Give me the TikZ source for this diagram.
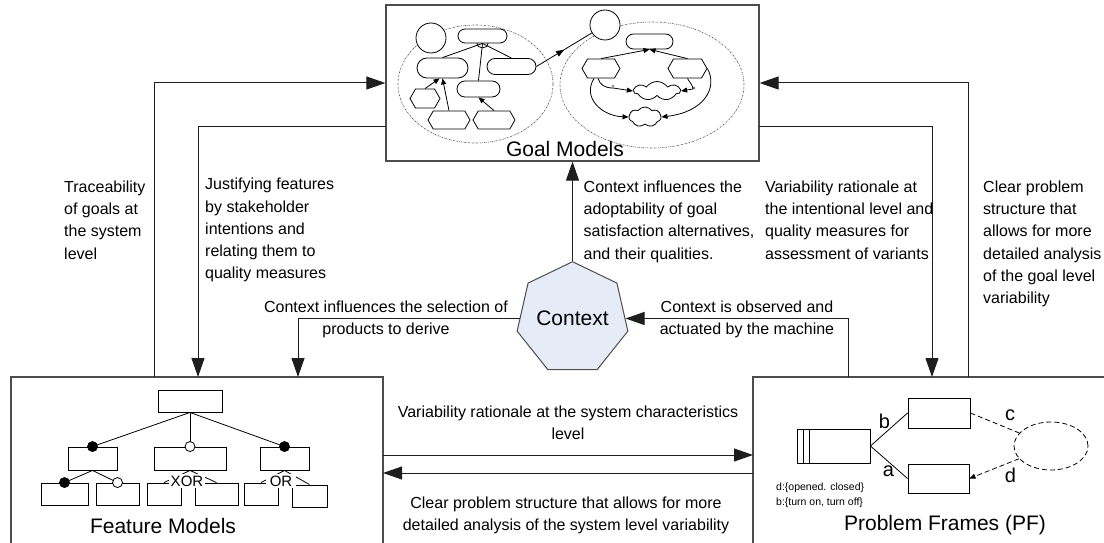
\documentclass[tikz,border=0pt]{standalone}
\usepackage{fontspec}
\setmainfont{Liberation Sans}
\usetikzlibrary{arrows.meta,shapes.geometric,shapes.misc,shapes.symbols,decorations.markings}
\definecolor{ctxfill}{RGB}{230,235,248}
\definecolor{linegray}{RGB}{30,30,30}
\begin{document}
\begin{tikzpicture}[x=1pt,y=-1pt,
  bigbox/.style={draw=black!70, line width=1.2pt, rectangle, inner sep=0pt},
  conn/.style={draw=linegray, line width=1pt, -{Triangle[length=19pt,width=13pt]}},
  lbl/.style={font=\fontsize{16}{22.3}\selectfont, inner sep=0pt},
  ttl/.style={font=\fontsize{21}{25}\selectfont, inner sep=0pt, anchor=base},
  ln/.style={draw=black, line width=0.8pt},
  garr/.style={ln, -{Triangle[length=6pt,width=5pt]}},
  gcirc/.style={circle, ln, minimum size=30pt, inner sep=0pt, fill=white},
  grr/.style={rounded rectangle, ln, inner sep=0pt, fill=white},
  ghex/.style={signal, signal to=east and west, signal pointer angle=120, ln, inner sep=0pt, fill=white},
  gcloud/.style={cloud, cloud puffs=7, cloud puff arc=110, ln, inner sep=0pt, aspect=2.4, fill=white},
  gell/.style={ellipse, draw=black!70, line width=0.6pt, dash pattern=on 1.5pt off 1pt on 0.4pt off 1pt, inner sep=0pt},
  fbox/.style={rectangle, draw=black, line width=0.9pt, inner sep=0pt},
  fdot/.style={circle, draw=black, line width=0.8pt, fill=black, minimum size=10pt, inner sep=0pt},
  fodot/.style={circle, draw=black, line width=0.8pt, fill=white, minimum size=10pt, inner sep=0pt},
  flab/.style={fill=white, inner sep=0pt, font=\fontsize{15}{15}\selectfont},
  pfbox/.style={rectangle, draw=black, line width=0.9pt, inner sep=0pt},
  pflet/.style={font=\fontsize{20}{20}\selectfont, inner sep=0pt},
  small/.style={font=\fontsize{10.5}{12}\selectfont, inner sep=0pt, anchor=base west},
]
\useasboundingbox (0,0) rectangle (1104,543);
\clip (0,0) rectangle (1104,543);

% ---------- main boxes ----------
\node[bigbox, minimum width=373pt, minimum height=156pt] (gm) at (572.5,83) {};
\node[bigbox, minimum width=372pt, minimum height=220pt] (fm) at (197,487) {};
\node[bigbox, minimum width=360pt, minimum height=220pt] (pf) at (933,487) {};

\node[ttl] (gmt) at (565,156) {Goal Models};
\node[ttl] (fmt) at (163,533) {Feature Models};
\node[ttl] (pft) at (945,530) {Problem Frames (PF)};

\node[regular polygon, regular polygon sides=7, minimum size=101pt, inner sep=0pt,
      draw=black!70, line width=1pt, fill=ctxfill, font=\fontsize{21}{25}\selectfont] (ctx) at (572.5,318.5) {Context};

% ---------- connector end points ----------
\coordinate (fmA) at (154,377);
\coordinate (fmB) at (198,377);
\coordinate (gmB) at (386,126);
\coordinate (fmD) at (298,377);
\coordinate (pfE) at (848,377);
\coordinate (gmF) at (759,126);
\coordinate (pfF) at (932,377);
\coordinate (pfG) at (968,377);
\coordinate (fmH) at (383,455);
\coordinate (pfH) at (753,455);
\coordinate (fmI) at (383,473);
\coordinate (pfI) at (753,473);

\draw[conn] (fmA) |- (gm.west);
\draw[conn] (gmB) -| (fmB);
\draw[conn] (ctx.corner 1) -- (gm.south);
\draw[conn] (ctx.west) -| (fmD);
\draw[conn] (pfE) |- (ctx.east);
\draw[conn] (gmF) -| (pfF);
\draw[conn] (pfG) |- (gm.east);
\draw[conn] (fmH) -- (pfH);
\draw[conn] (pfI) -- (fmI);

% ---------- labels ----------
\node[lbl, anchor=north west, align=left] (l1) at (64,176.4) {\strut Traceability\\of goals at\\the system\\level};
\node[lbl, anchor=north west, align=left] (l2) at (205,173.9) {\strut Justifying features\\by stakeholder\\intentions and\\relating them to\\quality measures};
\node[lbl, anchor=north west, align=left] (l3) at (583.5,176.4) {\strut Context influences the\\adoptability of goal\\satisfaction alternatives,\\and their qualities.};
\node[lbl, anchor=north west, align=left] (l4) at (765,176.4) {\strut Variability rationale at\\the intentional level and\\quality measures for\\assessment of variants};
\node[lbl, anchor=north west, align=left] (l5) at (983,176.4) {\strut Clear problem\\structure that\\allows for more\\detailed analysis\\of the goal level\\variability};
\node[lbl, anchor=north, align=center] (l6) at (386,296.4) {\strut Context influences the selection of\\products to derive};
\node[lbl, anchor=north, align=center] (l7) at (747,296.4) {\strut Context is observed and\\actuated by the machine};
\node[lbl, anchor=north, align=center] (l8) at (568,401.4) {\strut Variability rationale at the system characteristics\\level};
\node[lbl, anchor=north, align=center] (l9) at (566,492.4) {\strut Clear problem structure that allows for more\\detailed analysis of the system level variability};

% ---------- goal model miniature ----------
\node[gell, minimum width=155pt, minimum height=118pt] (ell1) at (475.5,84) {};
\node[gell, minimum width=184pt, minimum height=126pt] (ell2) at (652,85) {};

\node[gcirc] (c1) at (431,38) {};
\node[grr, minimum width=49pt, minimum height=14pt] (g1) at (482.5,36) {};
\node[grr, minimum width=51pt, minimum height=20pt] (g2) at (442.5,68) {};
\node[grr, minimum width=49pt, minimum height=16pt] (g3) at (511.5,66.5) {};
\node[grr, minimum width=43pt, minimum height=16pt] (g4) at (478.5,89) {};
\node[ghex, minimum width=30pt, minimum height=19pt] (t1) at (425,98.5) {};
\node[ghex, minimum width=42pt, minimum height=18pt] (t2) at (449,120) {};
\node[ghex, minimum width=42pt, minimum height=18pt] (t3) at (494,120) {};
\draw[ln] (g1.south) -- (g2.north);
\draw[ln] (g1.south) -- (g3.north);
\draw[ln] (g1.south) -- (g4.north);
\draw[ln] (477,43) .. controls (477,49.5) and (488,49.5) .. (488,43);
\draw[garr] (t1.north) -- ([xshift=-3pt]g2.south);
\draw[garr] (t2.north) -- (g2.south);
\draw[garr] (t3.north) -- (g4.south);

\node[gcirc] (c2) at (605,25) {};
\draw[ln, postaction={decorate}, decoration={markings, mark=at position 0.5 with {\arrow{Triangle[length=8pt,width=6pt]}}}] (g3.east) -- (c2);

\node[grr, minimum width=47pt, minimum height=15pt] (g5) at (649.5,41.5) {};
\node[ghex, minimum width=38pt, minimum height=19pt] (t4) at (601,68.5) {};
\node[ghex, minimum width=39pt, minimum height=19pt] (t5) at (687.5,68.5) {};
\node[gcloud, minimum width=46pt, minimum height=19pt] (s1) at (657,91) {};
\node[gcloud, minimum width=32pt, minimum height=20pt] (s2) at (645,117) {};
\draw[garr] (t4.north) -- (g5.south);
\draw[garr] (t5.north) -- (g5.south);
\draw[garr] ([xshift=-3pt]t4.south) .. controls (600,85) and (605,88) .. (613,88) -- (s1.west);
\draw[garr] (t5.south) .. controls (689,82) and (693,85) .. (693,89) -- (s1.east);
\draw[garr] ([xshift=-7pt]t4.south) .. controls (582,98) and (602,116) .. (s2.west);
\draw[garr] (t5.east) .. controls (718,88) and (704,112) .. (s2.east);
\node[inner sep=0pt, font=\fontsize{6}{6}\selectfont] (pl) at (613,87) {+};
\node[inner sep=0pt, font=\fontsize{6}{6}\selectfont] (mi) at (694,89) {×};

% ---------- feature model ----------
\node[fbox, minimum width=64pt, minimum height=22pt] (root) at (190,401) {};
\node[fbox, minimum width=49pt, minimum height=23pt] (f1) at (92.5,458.5) {};
\node[fbox, minimum width=72pt, minimum height=23pt] (f2) at (190,458.5) {};
\node[fbox, minimum width=49pt, minimum height=23pt] (f3) at (284.5,458.5) {};
\node[fbox, minimum width=47pt, minimum height=22pt] (f11) at (64.5,494) {};
\node[fbox, minimum width=43pt, minimum height=22pt] (f12) at (117.5,494) {};
\node[fbox, minimum width=34pt, minimum height=22pt] (f21) at (164,494) {};
\node[fbox, minimum width=43pt, minimum height=22pt] (f22) at (216.5,494) {};
\node[fbox, minimum width=34pt, minimum height=22pt] (f31) at (261,494) {};
\node[fbox, minimum width=35pt, minimum height=22pt] (f32) at (309.5,496) {};
\draw[ln] (root.south) -- (f1.north);
\draw[ln] (root.south) -- (f2.north);
\draw[ln] (root.south) -- (f3.north);
\node[fdot] (d1) at (f1.north) {};
\node[fodot] (d2) at (f2.north) {};
\node[fdot] (d3) at (f3.north) {};
\draw[ln] (f1.south) -- (f11.north);
\draw[ln] (f1.south) -- (f12.north);
\node[fdot] (d4) at (f11.north) {};
\node[fodot] (d5) at (f12.north) {};
\draw[ln] (f2.south) -- (f21.north);
\draw[ln] (f2.south) -- (f22.north);
\node[flab, minimum width=36pt, minimum height=14pt] (xor) at (187,481) {XOR};
\draw[ln] (f3.south) -- (f31.north);
\draw[ln] (f3.south) -- (f32.north);
\node[flab, minimum width=30pt, minimum height=14pt] (or) at (281,481) {OR};

% ---------- problem frames ----------
\node[pfbox, minimum width=73pt, minimum height=34pt] (mach) at (833.5,446) {};
\draw[ln] ([xshift=7pt]mach.north west) -- ([xshift=7pt]mach.south west);
\draw[ln] ([xshift=13pt]mach.north west) -- ([xshift=13pt]mach.south west);
\node[pfbox, minimum width=62pt, minimum height=30pt] (pd1) at (939,413) {};
\node[pfbox, minimum width=61pt, minimum height=29pt] (pd2) at (938.5,478.5) {};
\node[ellipse, draw=black, dash pattern=on 5pt off 3pt, line width=0.8pt, minimum width=74pt, minimum height=48pt, inner sep=0pt] (dom) at (1051,446) {};
\draw[ln] (mach.east) -- (pd1.west);
\draw[ln] (mach.east) -- (pd2.west);
\draw[ln, dash pattern=on 5pt off 3pt] (pd1.east) -- (dom);
\draw[ln, dash pattern=on 5pt off 3pt, -{Triangle[length=6pt,width=5pt]}] (dom) -- (pd2.east);
\node[pflet] (lb) at (884.5,421) {b};
\node[pflet] (la) at (888.5,471) {a};
\node[pflet] (lc) at (1010,415.5) {c};
\node[pflet] (ld) at (1010.5,475) {d};
\node[small] (st1) at (776,490.7) {d:\{opened. closed\}};
\node[small] (st2) at (776,505.7) {b:\{turn on, turn off\}};
\end{tikzpicture}
\end{document}
